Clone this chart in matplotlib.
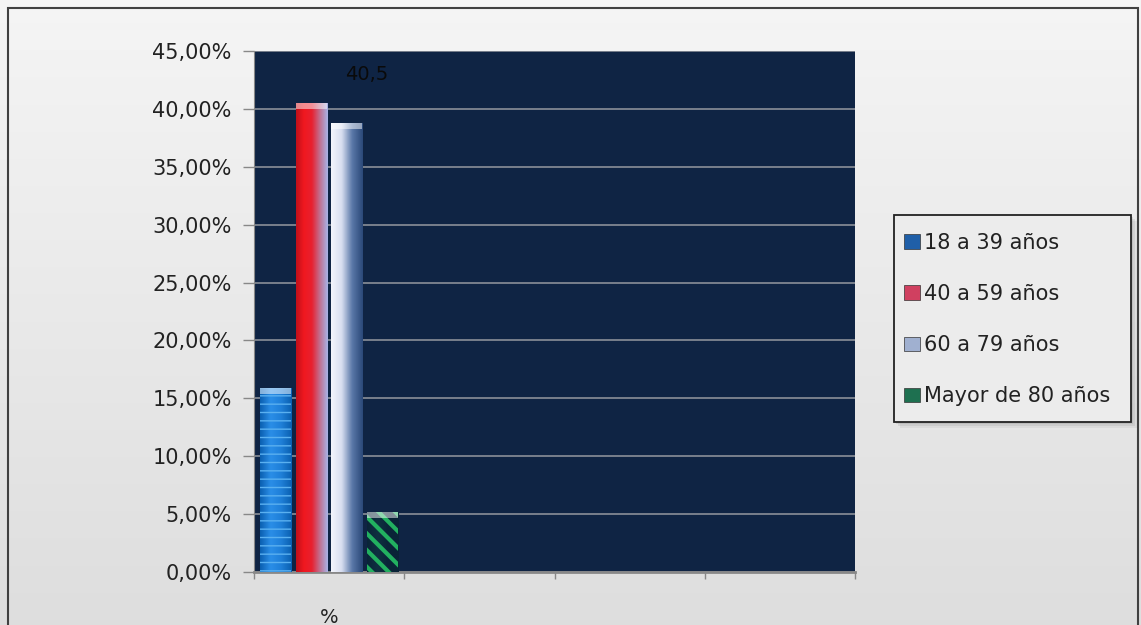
import numpy as np
import matplotlib
matplotlib.use("Agg")
import matplotlib.pyplot as plt
from matplotlib.patches import Rectangle
from matplotlib.colors import LinearSegmentedColormap

categories = ["%", "", "", ""]
series = ["18 a 39 años", "40 a 59 años", "60 a 79 años", "Mayor de 80 años"]
values = [15.9, 40.5, 38.8, 5.2]          # percent, first category only
yticks = [0, 5, 10, 15, 20, 25, 30, 35, 40, 45]
label_text = "40,5"

plt.rcParams['font.family'] = ['DejaVu Sans']

W, H = 1141, 625
fig = plt.figure(figsize=(W / 100, H / 100), dpi=100)

# figure background gradient
bg = fig.add_axes([0, 0, 1, 1], zorder=-10)
grad = np.linspace(0.96, 0.87, 256).reshape(-1, 1)
bg.imshow(np.dstack([grad, grad, grad]), aspect='auto', extent=[0, 1, 0, 1])
bg.set_xlim(0, 1); bg.set_ylim(0, 1); bg.axis('off')
bg.add_patch(Rectangle((8/W, -0.01), (1138-8)/W, 1-8/H+0.01, fill=False,
                       edgecolor='#404040', linewidth=1.5, transform=bg.transAxes))

# legend box (drawn manually) with soft shadow
lx0, lx1, ly0, ly1 = 894, 1131, 215, 422
for k, a in [(6, 0.10), (4, 0.15), (2, 0.2)]:
    bg.add_patch(Rectangle(((lx0 + k) / W, 1 - (ly1 + k) / H), (lx1 - lx0) / W, (ly1 - ly0) / H,
                           facecolor='#808080', alpha=a, edgecolor='none',
                           transform=bg.transAxes, zorder=1))
bg.add_patch(Rectangle((lx0 / W, 1 - ly1 / H), (lx1 - lx0) / W, (ly1 - ly0) / H,
                       facecolor='#ececec', edgecolor='#222222', linewidth=1.3,
                       transform=bg.transAxes, zorder=2))

ax = fig.add_axes([254/W, 1-572/H, (855-254)/W, (572-51)/H])
ax.set_facecolor('#0f2444')
ax.set_xlim(-0.5, 3.5)
ax.set_ylim(0, 45)
ax.set_yticks(yticks)
ax.set_yticklabels([f"{v:.2f}".replace('.', ',') + "%" for v in yticks],
                   fontsize=15, color='#222222')
ax.set_xticks(range(len(categories)))
ax.set_xticklabels(categories, fontsize=14, color='#222222')
ax.set_xticks([-0.5, 0.5, 1.5, 2.5, 3.5], minor=True)
ax.tick_params(axis='x', which='major', length=0, pad=26)
ax.tick_params(axis='x', which='minor', length=5, color='#888888', width=1)
ax.tick_params(axis='y', length=8, color='#888888', width=1, pad=8)
ax.yaxis.grid(True, color='#8a8f99', linewidth=1.2)
ax.set_axisbelow(True)
for s in ['top', 'right']:
    ax.spines[s].set_visible(False)
ax.spines['left'].set_color('#888888')
ax.spines['bottom'].set_color('#888888')
ax.spines['bottom'].set_linewidth(2)

width = 0.207
step = 0.236
offsets = [(i - 1.5) * step for i in range(4)]

grads = [
    ['#0a5fb0', '#2a8ee8', '#1f7fd8', '#0a5fb0'],
    ['#c0101a', '#f01820', '#e82030', '#c07090', '#a8b4e8'],
    ['#f4f6fc', '#d8def0', '#5a78a8', '#2a4878'],
    ['#0a2438', '#0f3040', '#0a2438', '#0a2438'],
]
legend_colors = ['#1f5fa8', '#d04060', '#a0b0d0', '#1e7050']
hatch_specs = {0: ('#5ab0f0', '--', 1.0), 3: ('#22b060', '\\\\', 3.0)}

handles = []
for i, (v, off) in enumerate(zip(values, offsets)):
    x0 = off - width / 2
    bar = ax.bar(off, v, width=width, color=legend_colors[i], edgecolor='none', zorder=2)[0]
    cmap = LinearSegmentedColormap.from_list(f"g{i}", grads[i])
    g = np.linspace(0, 1, 128).reshape(1, -1)
    im = ax.imshow(g, cmap=cmap, aspect='auto', extent=[x0, x0 + width, 0, v], zorder=3,
                   interpolation='bicubic')
    im.set_clip_path(bar)
    if i in hatch_specs:
        hc, hp, hlw = hatch_specs[i]
        plt.rcParams['hatch.linewidth'] = hlw
        ax.bar(off, v, width=width, color='none', edgecolor=hc, hatch=hp,
               linewidth=0, zorder=4)
    # top cap highlight
    ax.add_patch(Rectangle((x0, v - 0.5), width, 0.5, facecolor='white', alpha=0.5,
                           edgecolor='none', zorder=5))
    handles.append(Rectangle((0, 0), 1, 1, facecolor=legend_colors[i], edgecolor='#333333',
                             linewidth=0.5))

ax.set_xlim(-0.5, 3.5)
ax.set_ylim(0, 45)

ax.text(offsets[1] + 0.37, 43.0, label_text, fontsize=14, color='#0a0a0a', ha='center',
        va='center', zorder=6)

# legend entries (frame drawn manually above)
leg = fig.legend(handles, series, loc='center left',
                 bbox_to_anchor=(904/W, 1-(ly0 + ly1 + 2) / 2 / H), fontsize=15,
                 frameon=False, handlelength=0.75,
                 handleheight=0.7, handletextpad=0.2, labelspacing=1.5,
                 borderpad=0.0, borderaxespad=0)
for t in leg.get_texts():
    t.set_color('#222222')

fig.savefig("out.png", dpi=100)
